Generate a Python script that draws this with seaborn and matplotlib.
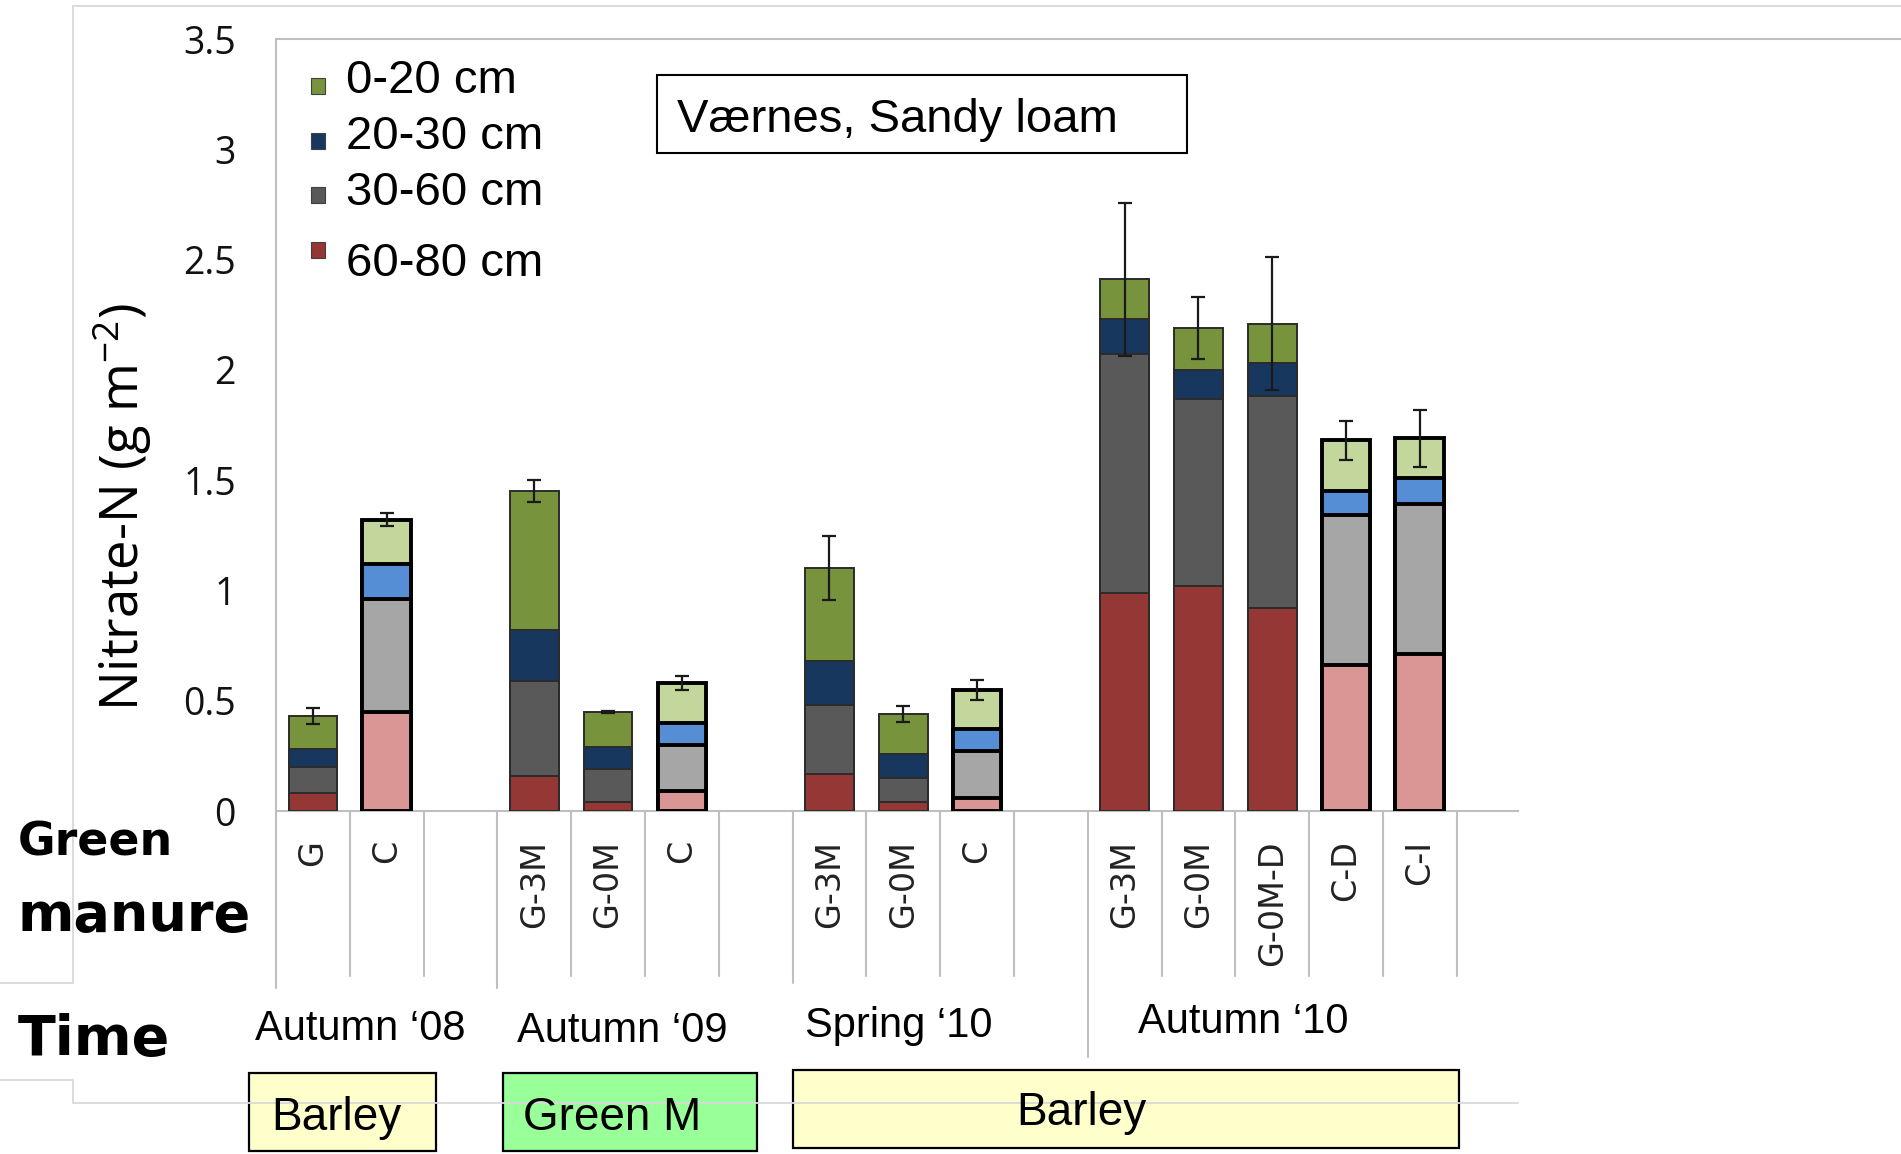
import numpy as np
import pandas as pd
import matplotlib
matplotlib.use("Agg")
import matplotlib.pyplot as plt
import matplotlib.transforms as mtransforms
from matplotlib.lines import Line2D
from matplotlib.patches import Rectangle
import seaborn as sns

# ---- data -------------------------------------------------------------
sampling = ["Autumn ‘08", "Autumn ‘08",
            "Autumn ‘09", "Autumn ‘09", "Autumn ‘09",
            "Spring ‘10", "Spring ‘10", "Spring ‘10",
            "Autumn ‘10", "Autumn ‘10", "Autumn ‘10", "Autumn ‘10", "Autumn ‘10"]
treatments = ["G", "C",
              "G-3M", "G-0M", "C",
              "G-3M", "G-0M", "C",
              "G-3M", "G-0M", "G-0M-D", "C-D", "C-I"]
control = [False, True,
           False, False, True,
           False, False, True,
           False, False, False, True, True]

# nitrate-N per soil layer (g m-2)
n_60_80 = [0.08, 0.45, 0.16, 0.04, 0.09, 0.17, 0.04, 0.06, 0.99, 1.02, 0.92, 0.66, 0.71]
n_30_60 = [0.12, 0.51, 0.43, 0.15, 0.21, 0.31, 0.11, 0.21, 1.08, 0.85, 0.96, 0.68, 0.68]
n_20_30 = [0.08, 0.16, 0.23, 0.10, 0.10, 0.20, 0.11, 0.10, 0.16, 0.13, 0.15, 0.11, 0.12]
n_0_20 = [0.15, 0.20, 0.63, 0.16, 0.18, 0.42, 0.18, 0.18, 0.18, 0.19, 0.18, 0.23, 0.18]
std_err = [0.035, 0.03, 0.05, 0.005, 0.03, 0.145, 0.035, 0.045, 0.345, 0.14, 0.30, 0.09, 0.13]

layer_names = ["60-80 cm", "30-60 cm", "20-30 cm", "0-20 cm"]          # bottom -> top
layer_values = [n_60_80, n_30_60, n_20_30, n_0_20]

crop_boxes = [("Barley", "#FFFFCC"), ("Green M", "#99FF99"), ("Barley", "#FFFFCC")]

dark_colors = {"0-20 cm": "#77933C", "20-30 cm": "#17375E",
               "30-60 cm": "#595959", "60-80 cm": "#953735"}
light_colors = {"0-20 cm": "#C3D69B", "20-30 cm": "#558ED5",
                "30-60 cm": "#A6A6A6", "60-80 cm": "#D99694"}

# ---- style ------------------------------------------------------------
sns.set_style("white")
plt.rcParams["font.family"] = ["Liberation Sans", "DejaVu Sans"]
plt.rcParams["text.color"] = "black"
plt.rcParams["axes.labelcolor"] = "black"
plt.rcParams["mathtext.fontset"] = "custom"
plt.rcParams["mathtext.rm"] = "Open Sans"
plt.rcParams["mathtext.it"] = "Open Sans:italic"

W, H = 1901, 1154
fig = plt.figure(figsize=(W / 100, H / 100), dpi=100)


def fx(px):
    return px / W


def fy(py):
    return 1 - py / H


AX_L, AX_R, AX_T, AX_B = 276, 1518, 39, 811
ax = fig.add_axes([fx(AX_L), fy(AX_B), fx(AX_R) - fx(AX_L), fy(AX_T) - fy(AX_B)])


def ay(py):
    """figure pixel row -> axes fraction"""
    return (AX_B - py) / (AX_B - AX_T)


# positions: one empty slot between sampling dates
groups = list(dict.fromkeys(sampling))
group_idx = np.array([groups.index(s) for s in sampling])
pos = np.arange(len(treatments)) + group_idx

df = pd.DataFrame({"pos": pos, "treatment": treatments, "control": control})
cum = np.cumsum(np.array(layer_values), axis=0)
for name, c in zip(layer_names, cum):
    df[name] = c

# stacked bars: draw cumulative totals from the top layer down
for k in reversed(range(len(layer_names))):
    name = layer_names[k]
    for is_ctrl, palette, lw, ec in [(False, dark_colors, 1.4, "#2b2b2b"),
                                      (True, light_colors, 2.8, "#000000")]:
        sub = df[df["control"] == is_ctrl]
        sns.barplot(data=sub, x="pos", y=name, native_scale=True, width=0.66,
                    color=palette[name], saturation=1, edgecolor=ec,
                    linewidth=lw, errorbar=None, ax=ax, zorder=3)

totals = cum[-1]
ax.errorbar(pos, totals, yerr=std_err, fmt="none", ecolor="#1a1a1a",
            elinewidth=1.6, capsize=5, capthick=1.6, zorder=6)

# ---- axes -------------------------------------------------------------
ax.set_xlim(-0.5, 16.33)
ax.set_ylim(0, 3.5)
ax.set_xlabel("")
ax.set_ylabel("")
yt = np.arange(0, 3.51, 0.5)
ax.set_yticks(yt)
ax.set_yticklabels([f"{v:g}" for v in yt], fontfamily="Open Sans",
                   fontsize=27, color="#111111")
ax.tick_params(axis="y", length=0, pad=29)
ax.set_xticks(pos)
ax.set_xticklabels(treatments, rotation=90, va="top", ha="center",
                   fontfamily="DejaVu Sans", fontsize=24, color="#222222")
ax.tick_params(axis="x", length=0, pad=21)

for s in ["top", "right", "left"]:
    ax.spines[s].set_visible(False)
ax.spines["bottom"].set_color("#BFBFBF")
ax.spines["bottom"].set_linewidth(1.5)
ax.grid(False)

# slot separators under the axis
trans = mtransforms.blended_transform_factory(ax.transData, ax.transAxes)
first_pos = {g: pos[group_idx == i].min() for i, g in enumerate(groups)}
long_ends = {first_pos[groups[0]] - 0.5: 988, first_pos[groups[1]] - 0.5: 988,
             first_pos[groups[2]] - 0.5: 983, first_pos[groups[3]] - 0.5: 1057}
for b in np.arange(-0.5, pos.max() + 1, 1.0):
    end = long_ends.get(b, 976)
    top = 1.0 if b == -0.5 else 0.0
    ax.plot([b, b], [top, ay(end)], color="#BFBFBF", lw=1.5,
            transform=trans, clip_on=False, zorder=1)

# ---- figure decorations -----------------------------------------------
frame = dict(color="#D9D9D9", lw=1.3)
fig.add_artist(Line2D([fx(73), fx(W)], [fy(6), fy(6)], **frame))
fig.add_artist(Line2D([fx(73), fx(73)], [fy(6), fy(983)], **frame))
fig.add_artist(Line2D([fx(0), fx(73)], [fy(983), fy(983)], **frame))
fig.add_artist(Line2D([fx(0), fx(73), fx(73), fx(AX_R)],
                      [fy(1080), fy(1080), fy(1103), fy(1103)], **frame))
fig.add_artist(Line2D([fx(AX_L), fx(W)], [fy(AX_T), fy(AX_T)],
                      color="#BFBFBF", lw=1.5))

# y axis title
fig.text(fx(122), fy(507), "Nitrate-N (g m$^{\\mathrm{-2}}$)", rotation=90,
         ha="center", va="center", fontsize=38, fontfamily="Open Sans",
         color="black")

# legend
legend_rows = {"0-20 cm": (93, 86), "20-30 cm": (149, 141),
               "30-60 cm": (205, 195), "60-80 cm": (276, 250)}
for name in reversed(layer_names):
    base, mid = legend_rows[name]
    fig.add_artist(Rectangle((fx(311), fy(mid + 8)), 14 / W, 16 / H,
                             facecolor=dark_colors[name], edgecolor="#404040",
                             lw=0.8, transform=fig.transFigure))
    fig.text(fx(346), fy(base), name, ha="left", va="baseline", fontsize=34,
             color="black")

# site box
fig.add_artist(Rectangle((fx(657), fy(153)), 530 / W, 78 / H, facecolor="white",
                         edgecolor="black", lw=1.5, transform=fig.transFigure))
fig.text(fx(677), fy(132), "Værnes, Sandy loam", ha="left", va="baseline",
         fontsize=34, color="black")

# row titles
bold = dict(fontfamily="DejaVu Sans", fontweight="bold", color="black",
            ha="left", va="baseline")
fig.text(fx(18), fy(855), "Green", fontsize=33, **bold)
fig.text(fx(18), fy(931), "manure", fontsize=39, **bold)
fig.text(fx(18), fy(1055), "Time", fontsize=40, **bold)

# sampling dates
date_spots = [(360, 1040), (622, 1042), (899, 1037), (1243, 1033)]
for g, (cx, by) in zip(groups, date_spots):
    fig.text(fx(cx), fy(by), g, ha="center", va="baseline", fontsize=30,
             color="black")

# crop boxes
box_geo = [(249, 1073, 436, 1151, 271, 1130, "left"),
           (503, 1073, 757, 1151, 523, 1130, "left"),
           (793, 1070, 1459, 1148, 1081, 1125, "center")]
for (label, fc), (x0, y0, x1, y1, tx, tb, ha) in zip(crop_boxes, box_geo):
    fig.add_artist(Rectangle((fx(x0), fy(y1)), (x1 - x0) / W, (y1 - y0) / H,
                             facecolor=fc, edgecolor="black", lw=1.6,
                             transform=fig.transFigure))
    fig.text(fx(tx), fy(tb), label, ha=ha, va="baseline", fontsize=33,
             color="black")

fig.savefig("out.png", dpi=100)
